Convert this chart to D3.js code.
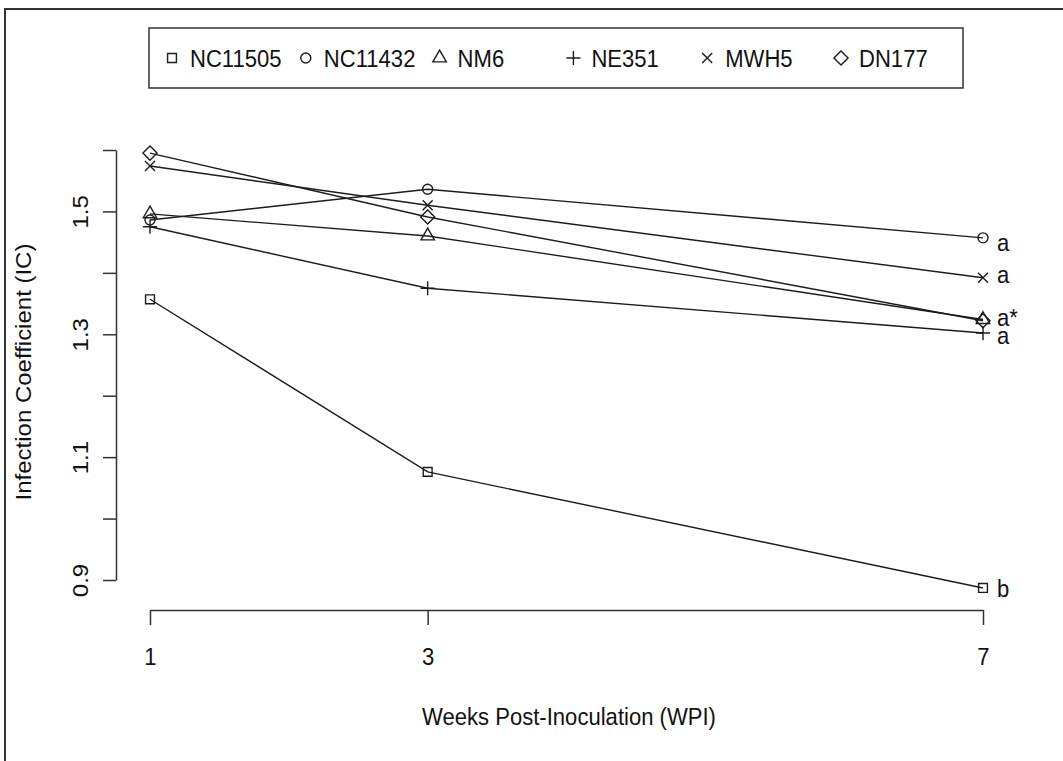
<!DOCTYPE html>
<html>
<head>
<meta charset="utf-8">
<script src="https://cdn.jsdelivr.net/npm/d3@7"></script>
<style>
  body { margin: 0; background: #fff; }
  svg { display: block; }
  text { font-family: "Liberation Sans", Arial, sans-serif; fill: #111; }
</style>
</head>
<body>
<svg id="chart" width="1063" height="761"></svg>
<script>
// Weeks post-inoculation sampled
const weeks = [1, 3, 7];

// Cultivars and their plotting symbols
const cultivars = ["NC11505", "NC11432", "NM6", "NE351", "MWH5", "DN177"];
const symbolTypes = ["square", "circle", "triangle", "plus", "cross", "diamond"];

// Infection coefficient per cultivar at weeks 1, 3, 7
const icNC11505 = [1.357, 1.076, 0.887];
const icNC11432 = [1.486, 1.536, 1.457];
const icNM6     = [1.496, 1.460, 1.324];
const icNE351   = [1.475, 1.375, 1.302];
const icMWH5    = [1.574, 1.510, 1.392];
const icDN177   = [1.595, 1.491, 1.322];
const seriesValues = [icNC11505, icNC11432, icNM6, icNE351, icMWH5, icDN177];

// Mean-separation letters at week 7 and the IC level each sits at
const groupLetters = ["a", "a", "a*", "a", "b"];
const letterIC = [1.450, 1.398, 1.328, 1.299, 0.887];

// Y axis ticks (alternate labels dropped, as in base R graphics)
const yTicks = [0.9, 1.0, 1.1, 1.2, 1.3, 1.4, 1.5, 1.6];
const yTickLabels = ["0.9", "", "1.1", "", "1.3", "", "1.5", ""];

const svg = d3.select("#chart");
const FONT = 24, SQX = 0.92;          // text size and horizontal glyph squeeze
const INK = "#1c1c1c";

const x = d3.scaleLinear().domain([1, 7]).range([150, 983]);
const y = d3.scaleLinear().domain([0.9, 1.6]).range([580, 150]);

// outer frame
svg.append("path")
  .attr("d", "M5,770V9H1070")
  .attr("fill", "none").attr("stroke", "#333").attr("stroke-width", 2);

// symbol path generator in the style of R pch 0..5
const RAD = 5;
function symbolPath(type) {
  const p = d3.path();
  if (type === "square") {
    const h = RAD * 0.886;
    p.rect(-h, -h, 2 * h, 2 * h);
  } else if (type === "circle") {
    p.moveTo(RAD, 0); p.arc(0, 0, RAD, 0, 2 * Math.PI);
  } else if (type === "triangle") {
    const r = 1.5551 * RAD, xc = 1.3468 * RAD, yc = 0.7776 * RAD;
    p.moveTo(0, -r); p.lineTo(xc, yc); p.lineTo(-xc, yc); p.closePath();
  } else if (type === "plus") {
    const c = Math.SQRT2 * RAD;
    p.moveTo(-c, 0); p.lineTo(c, 0); p.moveTo(0, -c); p.lineTo(0, c);
  } else if (type === "cross") {
    const c = RAD;
    p.moveTo(-c, -c); p.lineTo(c, c); p.moveTo(-c, c); p.lineTo(c, -c);
  } else if (type === "diamond") {
    const c = Math.SQRT2 * RAD;
    p.moveTo(0, -c); p.lineTo(c, 0); p.lineTo(0, c); p.lineTo(-c, 0); p.closePath();
  }
  return p.toString();
}

// X axis
const xAxis = svg.append("g").attr("transform", "translate(0,610)")
  .call(d3.axisBottom(x).tickValues(weeks).tickSize(15).tickSizeOuter(0)
    .tickPadding(23).tickFormat(d3.format("d")));
xAxis.selectAll("path, line").attr("stroke", "#333").attr("stroke-width", 1.5);
xAxis.selectAll("text").attr("font-size", FONT).attr("fill", "#111")
  .attr("font-family", null).attr("transform", `scale(${SQX},1)`);

// Y axis
const yAxis = svg.append("g").attr("transform", "translate(116,0)")
  .call(d3.axisLeft(y).tickValues(yTicks).tickSize(13).tickSizeOuter(0)
    .tickFormat((d, i) => yTickLabels[i]));
yAxis.selectAll("path, line").attr("stroke", "#333").attr("stroke-width", 1.5);
yAxis.selectAll("text")
  .attr("font-size", FONT).attr("fill", "#111").attr("font-family", null)
  .attr("x", 0).attr("y", 0).attr("dy", 0)
  .attr("text-anchor", "middle")
  .attr("transform", `translate(-28,0) scale(${SQX},1) rotate(-90)`);

// axis titles
svg.append("text")
  .attr("transform", `translate(569,725) scale(${SQX},1)`)
  .attr("text-anchor", "middle").attr("font-size", FONT)
  .text("Weeks Post-Inoculation (WPI)");
svg.append("text")
  .attr("transform", `translate(31,372) scale(${SQX},1) rotate(-90)`)
  .attr("text-anchor", "middle").attr("font-size", FONT)
  .text("Infection Coefficient (IC)");

// series lines and markers
const line = d3.line().x((d, i) => x(weeks[i])).y(d => y(d));
const plot = svg.append("g");
seriesValues.forEach((vals, s) => {
  plot.append("path").attr("d", line(vals))
    .attr("fill", "none").attr("stroke", INK).attr("stroke-width", 1.4);
  plot.selectAll(null).data(vals).enter().append("path")
    .attr("transform", (d, i) => `translate(${x(weeks[i])},${y(d)})`)
    .attr("d", symbolPath(symbolTypes[s]))
    .attr("fill", "none").attr("stroke", INK).attr("stroke-width", 1.4);
});

// group letters at the last week
svg.selectAll(null).data(groupLetters).enter().append("text")
  .attr("transform", (d, i) => `translate(${x(7) + 14},${y(letterIC[i])}) scale(${SQX},1)`)
  .attr("dy", "0.36em").attr("font-size", FONT)
  .text(d => d);

// legend
const legend = svg.append("g");
legend.append("rect").attr("x", 149).attr("y", 28).attr("width", 814).attr("height", 60)
  .attr("fill", "#fff").attr("stroke", "#333").attr("stroke-width", 1.5);
const entryW = 133.8;
cultivars.forEach((name, i) => {
  const sx = 172 + i * entryW;
  legend.append("path").attr("transform", `translate(${sx},58)`)
    .attr("d", symbolPath(symbolTypes[i]))
    .attr("fill", "none").attr("stroke", INK).attr("stroke-width", 1.4);
  legend.append("text")
    .attr("transform", `translate(${sx + 18},67) scale(${SQX},1)`)
    .attr("font-size", FONT).text(name);
});
</script>
</body>
</html>
